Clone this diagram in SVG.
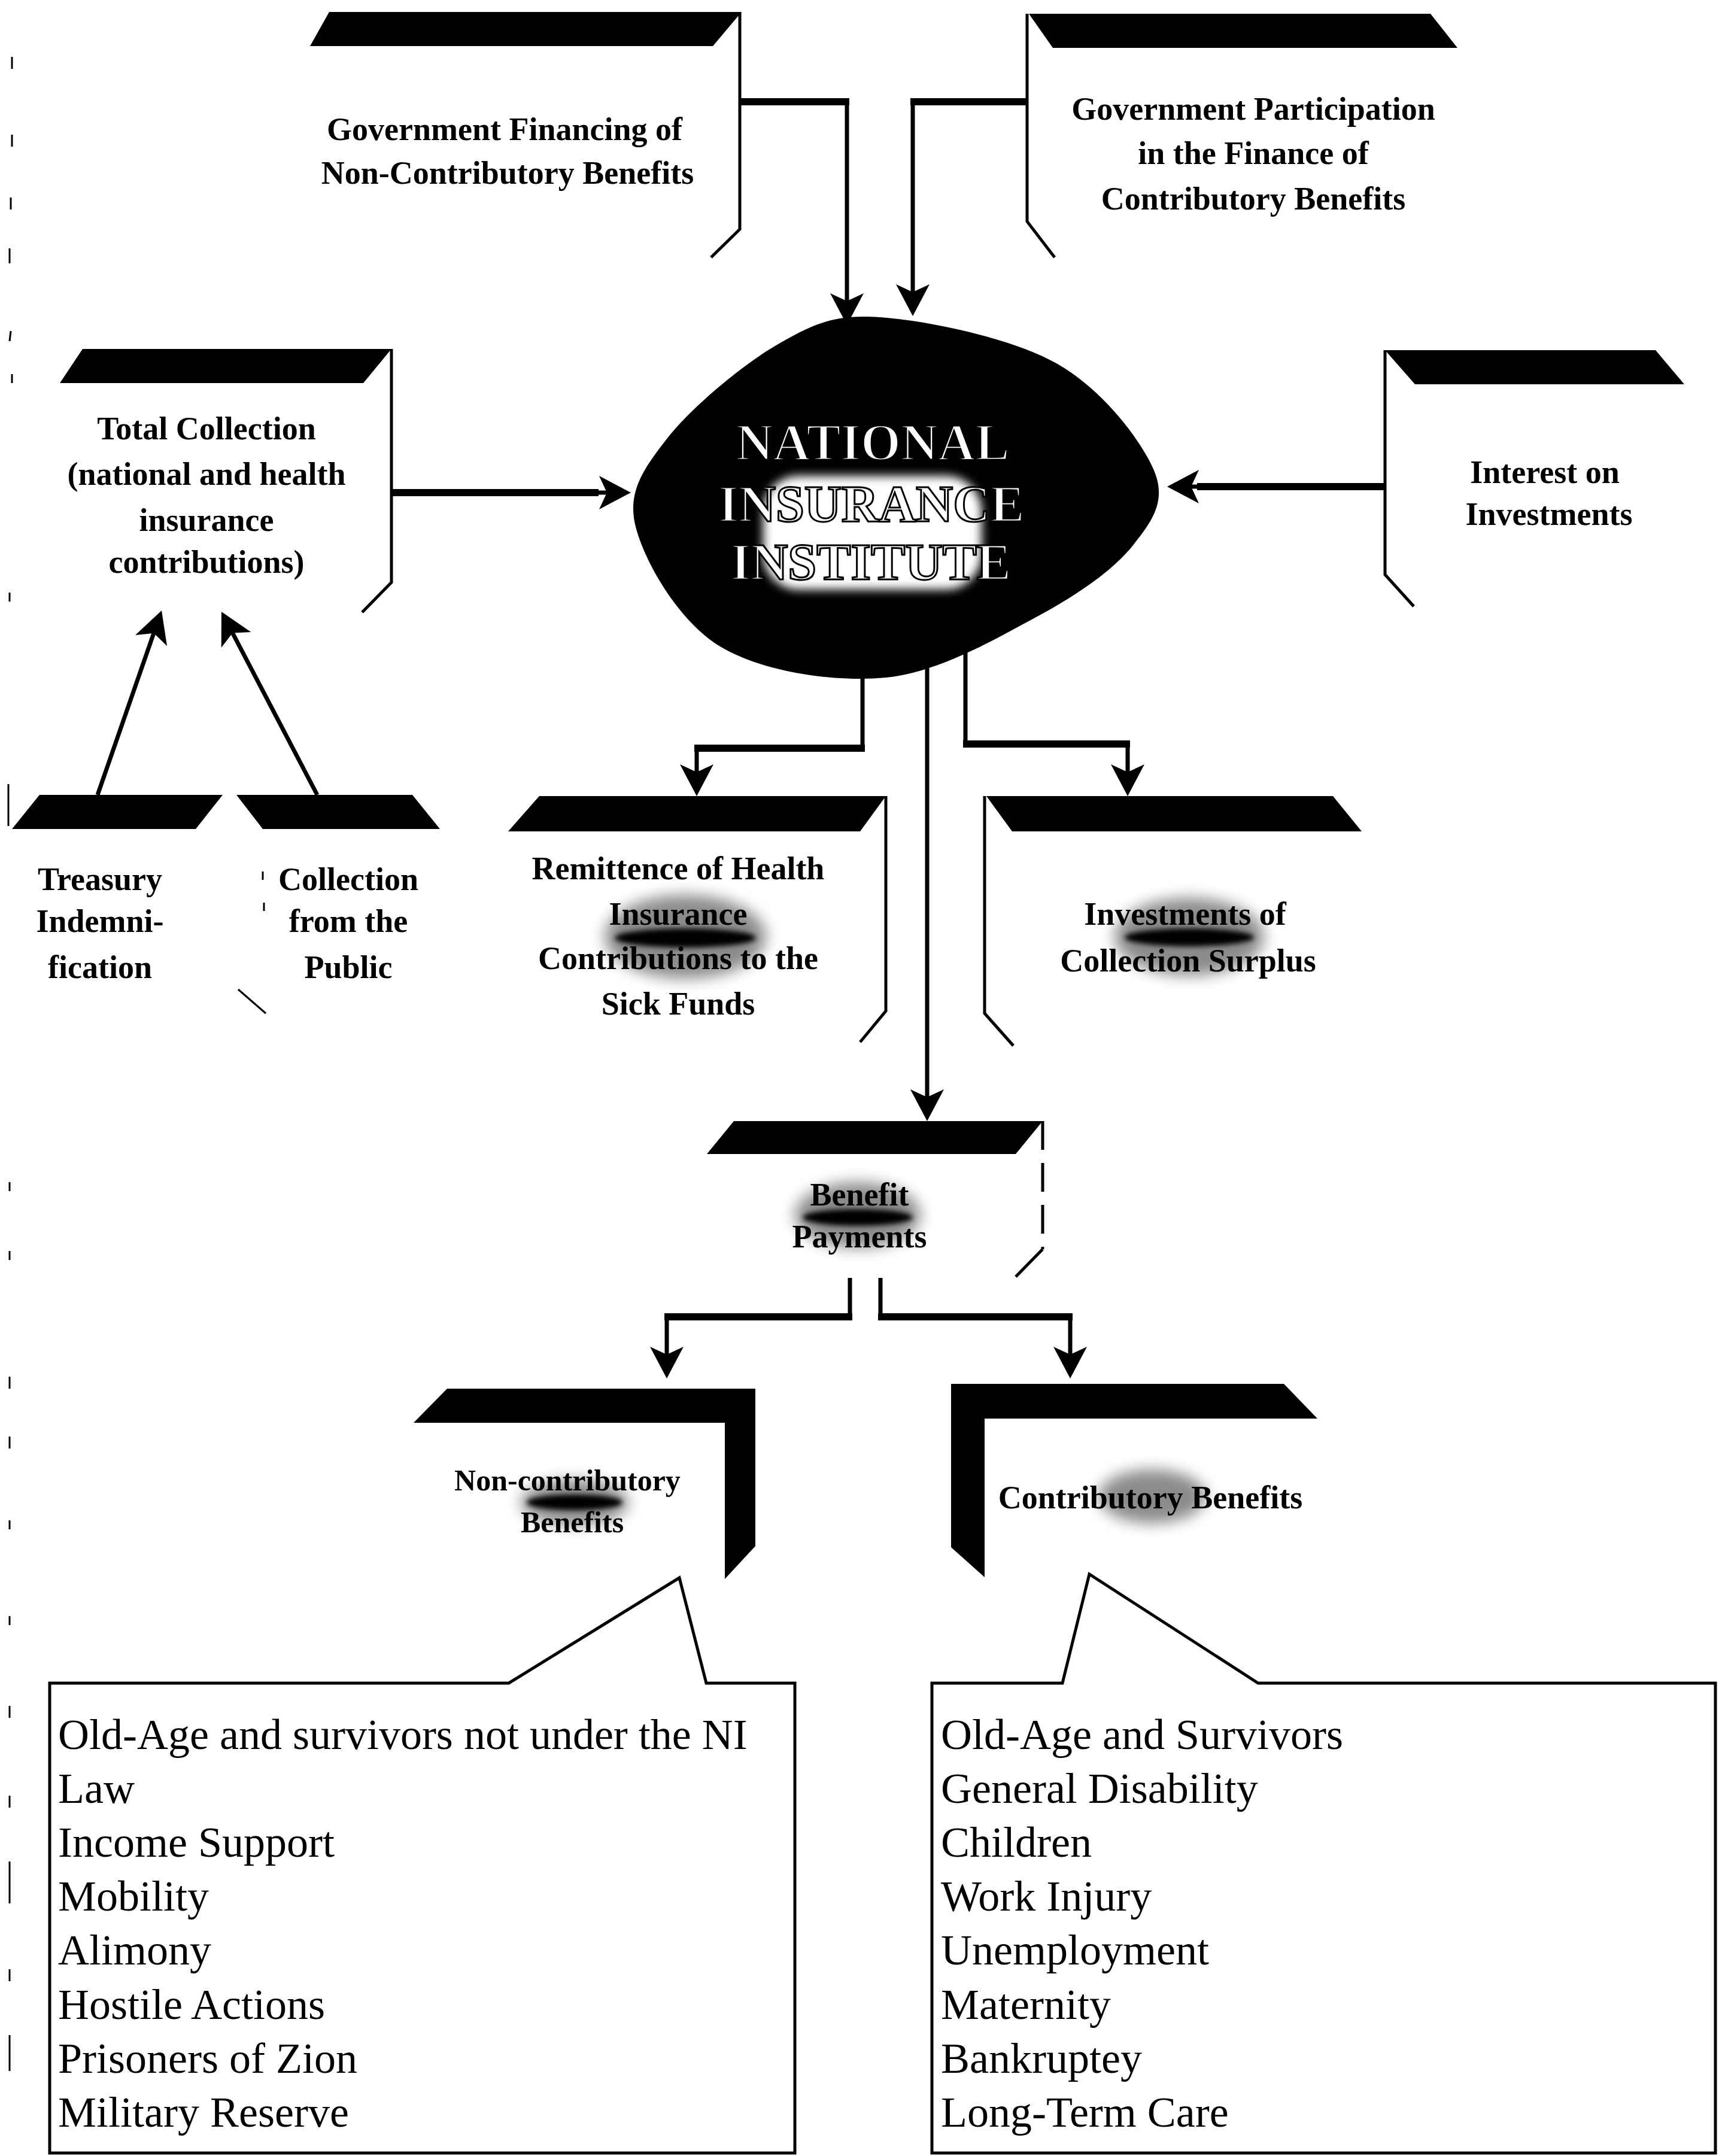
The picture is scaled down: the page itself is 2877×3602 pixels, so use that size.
<svg xmlns="http://www.w3.org/2000/svg" width="2877" height="3602" viewBox="0 0 2877 3602">
<style>
.banner{fill:#000}
.edge{fill:none;stroke:#000;stroke-width:5;stroke-linejoin:miter}
.dashed{stroke-dasharray:48 22}
.conn{fill:none;stroke:#000;stroke-width:7;marker-end:url(#ah)}
.hseg{fill:none;stroke:#000;stroke-width:12}
.lbl{font-family:"Liberation Serif","Times New Roman",serif;font-weight:bold;font-size:54px;text-anchor:middle;fill:#000}
.list{font-family:"Liberation Serif","Times New Roman",serif;font-size:72px;fill:#000}
.nii{font-family:"Liberation Serif","Times New Roman",serif;font-weight:bold;font-size:86px;fill:#fff;stroke:#000;stroke-width:3;text-anchor:middle}
.box{fill:#fff;stroke:#000;stroke-width:5}
.halo{fill:#000;opacity:.45;filter:url(#blur)}
.core{fill:#000;filter:url(#blur2)}
.tick{stroke:#000;stroke-width:3}
</style>
<defs>
<marker id="ah" viewBox="-45 -30 57 60" refX="0" refY="0" markerWidth="57" markerHeight="60" markerUnits="userSpaceOnUse" orient="auto">
<path d="M10,0 L-43,-28 L-30,0 L-43,28 Z" fill="#000"/>
</marker>
<filter id="blur" x="-30%" y="-30%" width="160%" height="160%"><feGaussianBlur stdDeviation="12"/></filter>
<filter id="blur2" x="-30%" y="-30%" width="160%" height="160%"><feGaussianBlur stdDeviation="4"/></filter>
<filter id="blur3" x="-20%" y="-20%" width="140%" height="140%"><feGaussianBlur stdDeviation="8"/></filter>
</defs>
<rect x="0" y="0" width="2877" height="3602" fill="#fff"/>

<g id="artifacts">
<line class="tick" x1="20" y1="95" x2="20" y2="115"/>
<line class="tick" x1="20" y1="225" x2="20" y2="245"/>
<line class="tick" x1="18" y1="330" x2="18" y2="350"/>
<line class="tick" x1="16" y1="415" x2="16" y2="440"/>
<line class="tick" x1="18" y1="553" x2="16" y2="570"/>
<line class="tick" x1="20" y1="625" x2="20" y2="640"/>
<line class="tick" x1="16" y1="990" x2="16" y2="1005"/>
<line class="tick" x1="14" y1="1310" x2="14" y2="1380"/>
<line class="tick" x1="16" y1="1975" x2="16" y2="1990"/>
<line class="tick" x1="16" y1="2090" x2="16" y2="2105"/>
<line class="tick" x1="16" y1="2300" x2="16" y2="2320"/>
<line class="tick" x1="16" y1="2400" x2="16" y2="2420"/>
<line class="tick" x1="16" y1="2540" x2="16" y2="2555"/>
<line class="tick" x1="16" y1="2700" x2="16" y2="2715"/>
<line class="tick" x1="16" y1="2850" x2="16" y2="2870"/>
<line class="tick" x1="16" y1="3000" x2="16" y2="3020"/>
<line class="tick" x1="16" y1="3110" x2="16" y2="3180"/>
<line class="tick" x1="16" y1="3290" x2="16" y2="3310"/>
<line class="tick" x1="16" y1="3400" x2="16" y2="3460"/>
<line class="tick" x1="439" y1="1456" x2="439" y2="1470"/>
<line class="tick" x1="441" y1="1508" x2="441" y2="1522"/>
<line class="tick" x1="398" y1="1653" x2="444" y2="1693"/>
</g>

<g id="gov-financing">
<polygon class="banner" points="550,20 1239,20 1191,77 518,77"/>
<path class="edge" d="M1236,20 V383 L1188,430"/>
<text class="lbl" x="843" y="234">Government Financing of</text>
<text class="lbl" x="848" y="307">Non-Contributory Benefits</text>
</g>

<g id="gov-participation">
<polygon class="banner" points="1719,23 2390,23 2435,80 1759,80"/>
<path class="edge" d="M1716,23 V370 L1762,430"/>
<text class="lbl" x="2094" y="200">Government Participation</text>
<text class="lbl" x="2094" y="274">in the Finance of</text>
<text class="lbl" x="2094" y="350">Contributory Benefits</text>
</g>

<g id="total-collection">
<polygon class="banner" points="138,583 654,583 607,640 100,640"/>
<path class="edge" d="M654,583 V973 L605,1023"/>
<text class="lbl" x="345" y="734">Total Collection</text>
<text class="lbl" x="345" y="810">(national and health</text>
<text class="lbl" x="345" y="887">insurance</text>
<text class="lbl" x="345" y="957">contributions)</text>
</g>

<g id="interest">
<polygon class="banner" points="2314,585 2766,585 2814,642 2364,642"/>
<path class="edge" d="M2314,585 V960 L2362,1013"/>
<text class="lbl" x="2581" y="807">Interest on</text>
<text class="lbl" x="2588" y="877">Investments</text>
</g>

<g id="treasury">
<polygon class="banner" points="66,1328 372,1328 327,1385 20,1385"/>
<text class="lbl" x="167" y="1487">Treasury</text>
<text class="lbl" x="167" y="1557">Indemni-</text>
<text class="lbl" x="167" y="1634">fication</text>
</g>

<g id="collection-public">
<polygon class="banner" points="395,1328 689,1328 735,1385 439,1385"/>
<text class="lbl" x="582" y="1487">Collection</text>
<text class="lbl" x="582" y="1557">from the</text>
<text class="lbl" x="582" y="1634">Public</text>
</g>

<g id="nii">
<path fill="#000" d="M1470,530 C1547.5,535.3 1688.7,564.3 1765,607 C1841.3,649.7 1906.7,735.3 1928,786 C1949.3,836.7 1925.5,870.3 1893,911 C1860.5,951.7 1801.8,993.2 1733,1030 C1664.2,1066.8 1568.3,1123.7 1480,1132 C1391.7,1140.3 1272.7,1122 1203,1080 C1133.3,1038 1076.7,938 1062,880 C1047.3,822 1075.3,782.8 1115,732 C1154.7,681.2 1240.8,608.7 1300,575 C1359.2,541.3 1392.5,524.7 1470,530 Z"/>
<rect x="1275" y="795" width="365" height="190" rx="60" fill="#fff" filter="url(#blur3)"/>
<text class="nii" x="1458" y="768">NATIONAL</text>
<text class="nii" x="1456" y="871">INSURANCE</text>
<text class="nii" x="1455" y="968">INSTITUTE</text>
</g>

<g id="remittence">
<polygon class="banner" points="901,1330 1480,1330 1437,1389 849,1389"/>
<path class="edge" d="M1480,1330 V1689 L1437,1741"/>
<ellipse class="halo" cx="1145" cy="1565" rx="135" ry="70"/>
<ellipse class="core" cx="1145" cy="1567" rx="118" ry="16"/>
<text class="lbl" x="1133" y="1469">Remittence of Health</text>
<text class="lbl" x="1133" y="1545">Insurance</text>
<text class="lbl" x="1133" y="1619">Contributions to the</text>
<text class="lbl" x="1133" y="1695">Sick Funds</text>
</g>

<g id="investments">
<polygon class="banner" points="1648,1330 2227,1330 2275,1389 1691,1389"/>
<path class="edge" d="M1645,1330 V1693 L1693,1747"/>
<ellipse class="halo" cx="1987" cy="1565" rx="125" ry="65"/>
<ellipse class="core" cx="1987" cy="1566" rx="108" ry="15"/>
<text class="lbl" x="1980" y="1545">Investments of</text>
<text class="lbl" x="1985" y="1623">Collection Surplus</text>
</g>

<g id="benefit-payments">
<polygon class="banner" points="1226,1873 1742,1873 1697,1928 1181,1928"/>
<path class="edge dashed" d="M1742,1873 V2087"/>
<path class="edge" d="M1742,2087 L1697,2133"/>
<ellipse class="halo" cx="1433" cy="2030" rx="105" ry="55"/>
<ellipse class="core" cx="1433" cy="2034" rx="92" ry="14"/>
<text class="lbl" x="1436" y="2014">Benefit</text>
<text class="lbl" x="1436" y="2084">Payments</text>
</g>

<g id="non-contributory">
<polygon class="banner" points="747,2320 1262,2320 1262,2583 1211,2638 1211,2377 691,2377"/>
<ellipse class="halo" cx="960" cy="2510" rx="90" ry="38"/>
<ellipse class="core" cx="960" cy="2510" rx="80" ry="13"/>
<text class="lbl" x="948" y="2490" style="font-size:50px">Non-contributory</text>
<text class="lbl" x="956" y="2560" style="font-size:50px">Benefits</text>
</g>

<g id="contributory">
<polygon class="banner" points="1589,2312 2145,2312 2201,2370 1645,2370 1645,2635 1589,2585"/>
<ellipse class="halo" cx="1925" cy="2500" rx="90" ry="45"/>
<text class="lbl" x="1922" y="2520">Contributory Benefits</text>
</g>

<g id="non-contributory-list">
<path class="box" d="M83,2812 H850 L1135,2636 L1180,2812 H1328 V3597 H83 Z"/>
<text class="list" x="97" y="2922">Old-Age and survivors not under the NI</text>
<text class="list" x="97" y="3012">Law</text>
<text class="list" x="97" y="3102">Income Support</text>
<text class="list" x="97" y="3192">Mobility</text>
<text class="list" x="97" y="3282">Alimony</text>
<text class="list" x="97" y="3373">Hostile Actions</text>
<text class="list" x="97" y="3463">Prisoners of Zion</text>
<text class="list" x="97" y="3553">Military Reserve</text>
</g>

<g id="contributory-list">
<path class="box" d="M1557,2812 H1775 L1820,2630 L2102,2812 H2866 V3597 H1557 Z"/>
<text class="list" x="1572" y="2922">Old-Age and Survivors</text>
<text class="list" x="1572" y="3012">General Disability</text>
<text class="list" x="1572" y="3102">Children</text>
<text class="list" x="1572" y="3192">Work Injury</text>
<text class="list" x="1572" y="3282">Unemployment</text>
<text class="list" x="1572" y="3373">Maternity</text>
<text class="list" x="1572" y="3463">Bankruptey</text>
<text class="list" x="1572" y="3553">Long-Term Care</text>
</g>

<g id="connectors">
<path class="conn" d="M1236,170 H1415 V533"/>
<path class="hseg" d="M1236,170 H1419"/>
<path class="conn" d="M1716,170 H1525 V518"/>
<path class="hseg" d="M1716,170 H1521"/>
<path class="conn" d="M654,823 H1044"/>
<path class="hseg" d="M654,823 H1000"/>
<path class="conn" d="M2314,813 H1960"/>
<path class="hseg" d="M2314,813 H2000"/>
<path class="conn" d="M163,1328 L266.7,1029.5"/>
<path class="conn" d="M530,1328 L374.6,1030.9"/>
<path class="conn" d="M1441,1060 V1250 H1164 V1320"/>
<path class="hseg" d="M1445,1250 H1160"/>
<path class="conn" d="M1549,1060 V1863"/>
<path class="conn" d="M1613,1060 V1243 H1884 V1320"/>
<path class="hseg" d="M1609,1243 H1888"/>
<path class="conn" d="M1420,2135 V2200 H1114 V2293"/>
<path class="hseg" d="M1424,2200 H1110"/>
<path class="conn" d="M1471,2135 V2200 H1788 V2293"/>
<path class="hseg" d="M1467,2200 H1792"/>
</g>
</svg>
